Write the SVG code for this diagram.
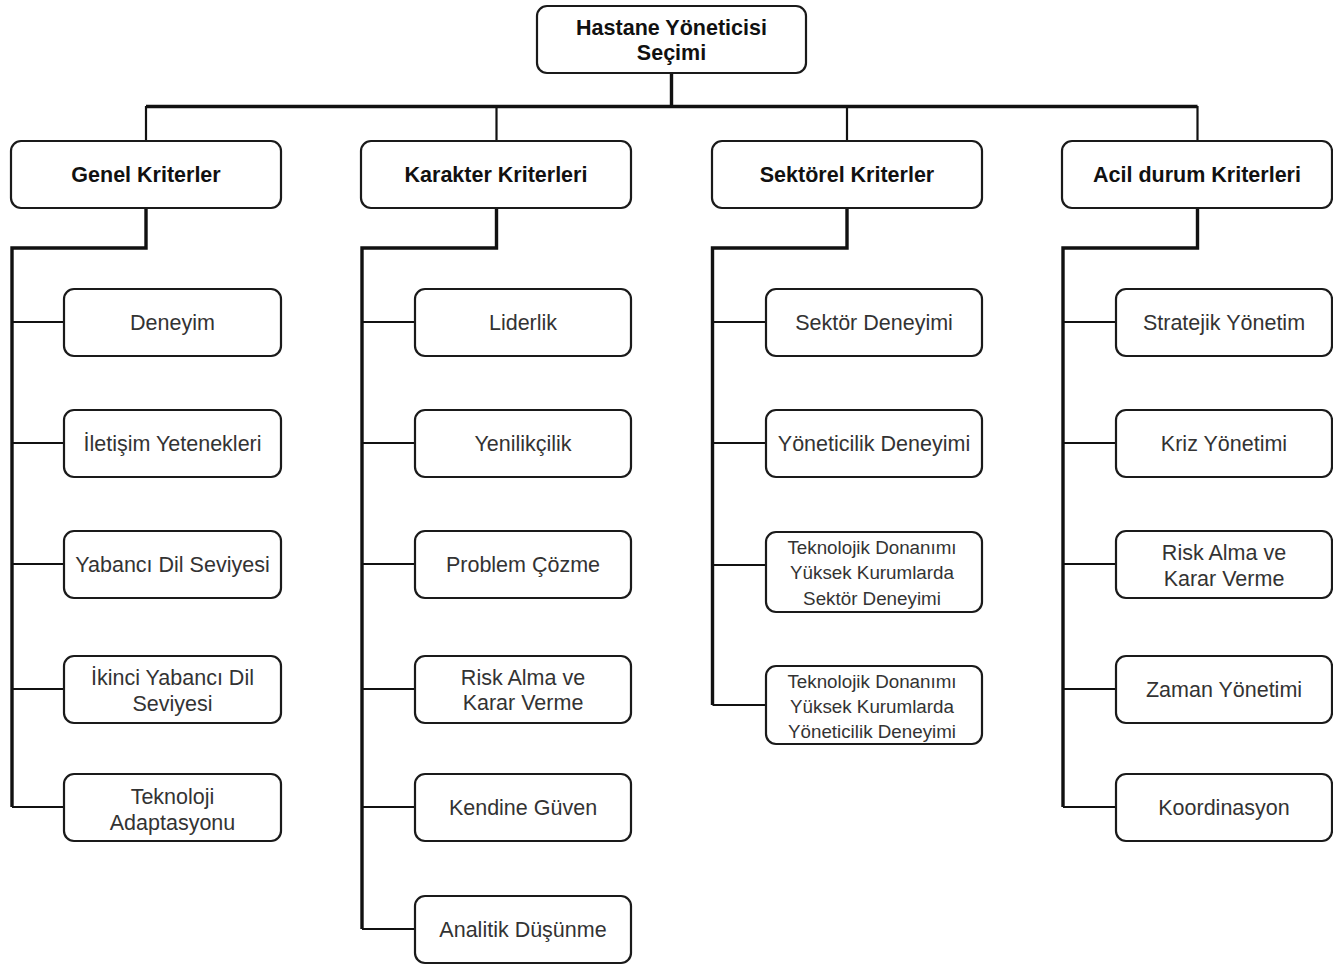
<svg xmlns="http://www.w3.org/2000/svg" width="1333" height="965" viewBox="0 0 1333 965">
<style>
.box{fill:#fff;stroke:#1a1a1a;stroke-width:2.2}
.t{font-family:"Liberation Sans",Arial,sans-serif;font-size:21.5px;fill:#333;text-anchor:middle}
.b{font-weight:bold;fill:#111}
.s{font-size:18.8px}
.c{fill:none;stroke:#111;stroke-linejoin:miter}
.thin{stroke-width:2.2}
.thick{stroke-width:3.4}
</style>
<rect width="1333" height="965" fill="#fff"/>
<g id="connectors">
<path class="c thick" d="M671.5 73V106.5M146 106.5H1197.5"/>
<path class="c thin" d="M146 106V141M496.5 106V141M847 106V141M1197.5 106V141"/>
<path class="c thick" d="M146 208V248H12V807"/>
<path class="c thick" d="M496.5 208V248H362V929"/>
<path class="c thick" d="M847 208V248H712.5V705"/>
<path class="c thick" d="M1197.5 208V248H1063V807"/>
<path class="c thin" d="M12 322H64M12 443H64M12 564H64M12 689H64M12 807H64"/>
<path class="c thin" d="M362 322H415M362 443H415M362 564H415M362 689H415M362 807H415M362 929H415"/>
<path class="c thin" d="M712.5 322H766M712.5 443H766M712.5 565H766M712.5 705H766"/>
<path class="c thin" d="M1063 322H1116M1063 443H1116M1063 564H1116M1063 689H1116M1063 807H1116"/>
</g>
<g id="root"><rect class="box" x="537" y="6" width="269" height="67" rx="10"/><text class="t b" x="671.5" y="35">Hastane Yöneticisi</text><text class="t b" x="671.5" y="60">Seçimi</text></g>
<g id="genel"><rect class="box" x="11" y="141" width="270" height="67" rx="10"/><text class="t b" x="146" y="182">Genel Kriterler</text></g>
<g id="karakter"><rect class="box" x="361" y="141" width="270" height="67" rx="10"/><text class="t b" x="496" y="182">Karakter Kriterleri</text></g>
<g id="sektorel"><rect class="box" x="712" y="141" width="270" height="67" rx="10"/><text class="t b" x="847" y="182">Sektörel Kriterler</text></g>
<g id="acil"><rect class="box" x="1062" y="141" width="270" height="67" rx="10"/><text class="t b" x="1197" y="182">Acil durum Kriterleri</text></g>

<g id="g1"><rect class="box" x="64" y="289" width="217" height="67" rx="10"/><text class="t" x="172.5" y="330">Deneyim</text></g>
<g id="g2"><rect class="box" x="64" y="410" width="217" height="67" rx="10"/><text class="t" x="172.5" y="451">İletişim Yetenekleri</text></g>
<g id="g3"><rect class="box" x="64" y="531" width="217" height="67" rx="10"/><text class="t" x="172.5" y="572">Yabancı Dil Seviyesi</text></g>
<g id="g4"><rect class="box" x="64" y="656" width="217" height="67" rx="10"/><text class="t" x="172.5" y="685">İkinci Yabancı Dil</text><text class="t" x="172.5" y="711">Seviyesi</text></g>
<g id="g5"><rect class="box" x="64" y="774" width="217" height="67" rx="10"/><text class="t" x="172.5" y="804">Teknoloji</text><text class="t" x="172.5" y="830">Adaptasyonu</text></g>

<g id="k1"><rect class="box" x="415" y="289" width="216" height="67" rx="10"/><text class="t" x="523" y="330">Liderlik</text></g>
<g id="k2"><rect class="box" x="415" y="410" width="216" height="67" rx="10"/><text class="t" x="523" y="451">Yenilikçilik</text></g>
<g id="k3"><rect class="box" x="415" y="531" width="216" height="67" rx="10"/><text class="t" x="523" y="572">Problem Çözme</text></g>
<g id="k4"><rect class="box" x="415" y="656" width="216" height="67" rx="10"/><text class="t" x="523" y="685">Risk Alma ve</text><text class="t" x="523" y="710">Karar Verme</text></g>
<g id="k5"><rect class="box" x="415" y="774" width="216" height="67" rx="10"/><text class="t" x="523" y="815">Kendine Güven</text></g>
<g id="k6"><rect class="box" x="415" y="896" width="216" height="67" rx="10"/><text class="t" x="523" y="937">Analitik Düşünme</text></g>

<g id="s1"><rect class="box" x="766" y="289" width="216" height="67" rx="10"/><text class="t" x="874" y="330">Sektör Deneyimi</text></g>
<g id="s2"><rect class="box" x="766" y="410" width="216" height="67" rx="10"/><text class="t" x="874" y="451">Yöneticilik Deneyimi</text></g>
<g id="s3"><rect class="box" x="766" y="532" width="216" height="80" rx="10"/><text class="t s" x="872" y="554">Teknolojik Donanımı</text><text class="t s" x="872" y="579">Yüksek Kurumlarda</text><text class="t s" x="872" y="605">Sektör Deneyimi</text></g>
<g id="s4"><rect class="box" x="766" y="666" width="216" height="78" rx="10"/><text class="t s" x="872" y="688">Teknolojik Donanımı</text><text class="t s" x="872" y="713">Yüksek Kurumlarda</text><text class="t s" x="872" y="738">Yöneticilik Deneyimi</text></g>

<g id="a1"><rect class="box" x="1116" y="289" width="216" height="67" rx="10"/><text class="t" x="1224" y="330">Stratejik Yönetim</text></g>
<g id="a2"><rect class="box" x="1116" y="410" width="216" height="67" rx="10"/><text class="t" x="1224" y="451">Kriz Yönetimi</text></g>
<g id="a3"><rect class="box" x="1116" y="531" width="216" height="67" rx="10"/><text class="t" x="1224" y="560">Risk Alma ve</text><text class="t" x="1224" y="586">Karar Verme</text></g>
<g id="a4"><rect class="box" x="1116" y="656" width="216" height="67" rx="10"/><text class="t" x="1224" y="697">Zaman Yönetimi</text></g>
<g id="a5"><rect class="box" x="1116" y="774" width="216" height="67" rx="10"/><text class="t" x="1224" y="815">Koordinasyon</text></g>
</svg>
